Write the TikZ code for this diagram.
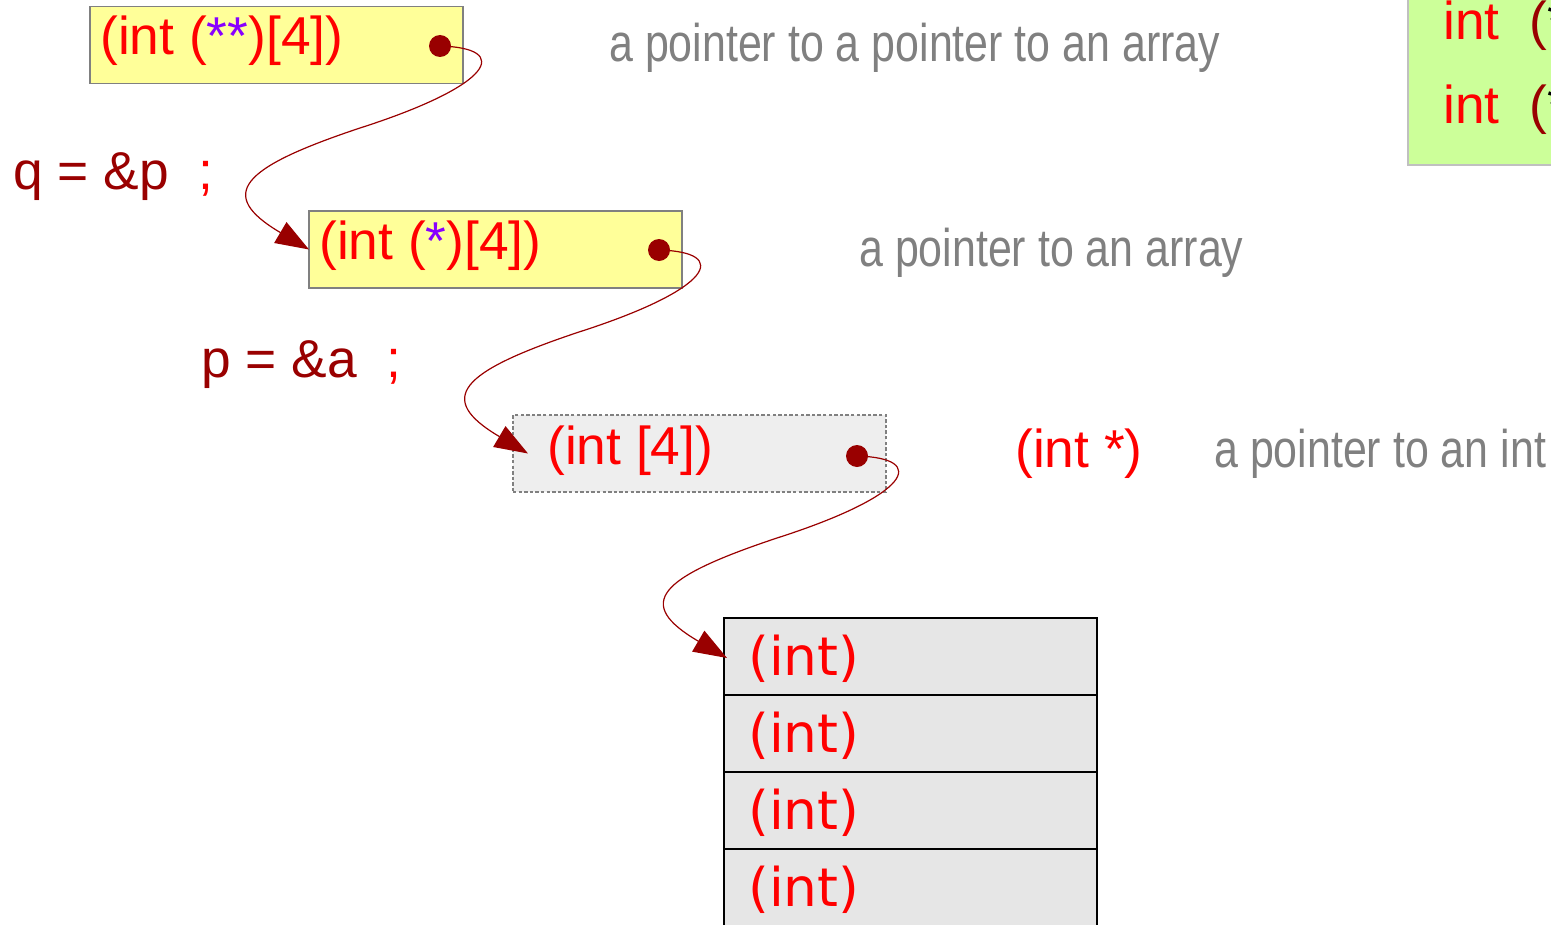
\documentclass[tikz,border=0pt]{standalone}
\usepackage{fontspec}
\setmainfont{Liberation Sans}
\newfontfamily\narrowfont[FakeStretch=0.81]{Liberation Sans}
\newfontfamily\dvfont{DejaVu Sans}
\usetikzlibrary{arrows.meta,calc}
\definecolor{dred}{RGB}{153,0,0}
\definecolor{vred}{RGB}{255,0,0}
\definecolor{violettwo}{RGB}{136,0,255}
\definecolor{gtext}{RGB}{128,128,128}
\definecolor{yfill}{RGB}{255,255,153}
\definecolor{gfill}{RGB}{238,238,238}
\definecolor{cfill}{RGB}{230,230,230}
\definecolor{grfill}{RGB}{204,255,153}
\definecolor{bord}{RGB}{128,128,128}
\begin{document}
\begin{tikzpicture}[x=0.75pt,y=-0.75pt,
  boxdim/.style={minimum width=279.75pt,minimum height=57.75pt,inner sep=0pt,outer sep=0pt},
  ybox/.style={boxdim,draw=bord,fill=yfill,line width=0.9pt},
  dbox/.style={boxdim,draw=bord,fill=gfill,line width=0.8pt,dash pattern=on 2.6pt off 1.6pt},
  cellbox/.style={boxdim,draw=black,fill=cfill,line width=1pt},
  gbox/.style={minimum width=123pt,minimum height=135pt,inner sep=0pt,draw={rgb,255:red,192;green,192;blue,192},fill=grfill,line width=0.9pt},
  txt/.style={inner sep=0pt,anchor=base west,font=\fontsize{40pt}{48pt}\selectfont},
  ctxt/.style={inner sep=0pt,anchor=base west,font=\dvfont\fontsize{40pt}{48pt}\selectfont,text=vred},
  note/.style={inner sep=0pt,anchor=base west,font=\narrowfont\fontsize{39.75pt}{48pt}\selectfont,text=gtext},
  dotn/.style={circle,fill=dred,minimum size=16.5pt,inner sep=0pt},
  ptr/.style={dred,line width=0.9pt,-{Triangle[length=25pt,width=18pt]}}
]
\useasboundingbox (0,0) rectangle (1551,924);
\clip (0,0) rectangle (1551,924);

% green box (top right, partly outside)
\node[gbox] (g) at (1490,75) {};
\node[txt,text=vred] (g1) at (1443,40) {int\ \ {\color{dred}(}{\color{black}*}};
\node[txt,text=vred] (g2) at (1443,123) {int\ \ {\color{dred}(}{\color{black}*}};

% boxes
\node[ybox] (b1) at (276.5,45) {};
\node[ybox] (b2) at (495.5,249.5) {};
\node[dbox] (b3) at (699.5,453.5) {};

% array cells
\node[cellbox] (c1) at (910.5,656.5) {};
\node[cellbox] (c2) at (910.5,733.5) {};
\node[cellbox] (c3) at (910.5,810.5) {};
\node[cellbox] (c4) at (910.5,887.5) {};

% box texts
\node[txt,text=vred] (t1) at (100,55) {(int ({\color{violettwo}**})[4])};
\node[txt,text=vred] (t2) at (319,259) {(int ({\color{violettwo}*})[4])};
\node[txt,text=vred] (t3) at (547,464) {(int [4])};

% cell texts
\node[ctxt] (ct1) at (748,675) {(int)};
\node[ctxt] (ct2) at (748,752) {(int)};
\node[ctxt] (ct3) at (748,829) {(int)};
\node[ctxt] (ct4) at (748,906) {(int)};

% statements
\node[txt,text=dred] (s1) at (13,189) {q = \&p\ \ {\color{vred};}};
\node[txt,text=dred] (s2) at (201,377) {p = \&a\ \ {\color{vred};}};

% notes
\node[note] (n1) at (609,62) {a pointer to a pointer to an array};
\node[note] (n2) at (859,266) {a pointer to an array};
\node[txt,text=vred] (n3) at (1015,467) {(int *)};
\node[note] (n4) at (1214,467) {a pointer to an int};

% dots
\node[dotn] (d1) at (440,46) {};
\node[dotn] (d2) at (659,250) {};
\node[dotn] (d3) at (857,456) {};

% connectors
\draw[ptr] (d1.center) .. controls ($(d1)+(72,2)$) and ($(d1)+(54,39)$) .. ($(d1)+(-80,82)$)
  .. controls ($(d1)+(-200,122)$) and ($(b2.west)+(-93,-55)$) .. (b2.west);
\draw[ptr] (d2.center) .. controls ($(d2)+(72,2)$) and ($(d2)+(54,39)$) .. ($(d2)+(-80,82)$)
  .. controls ($(d2)+(-200,122)$) and ($(b3.west)+(-78,-55)$) .. ($(b3.west)+(15,0)$);
\draw[ptr] (d3.center) .. controls ($(d3)+(72,2)$) and ($(d3)+(54,39)$) .. ($(d3)+(-80,82)$)
  .. controls ($(d3)+(-200,122)$) and ($(c1.west)+(-90,-53)$) .. ($(c1.west)+(3,1.5)$);
\end{tikzpicture}
\end{document}
